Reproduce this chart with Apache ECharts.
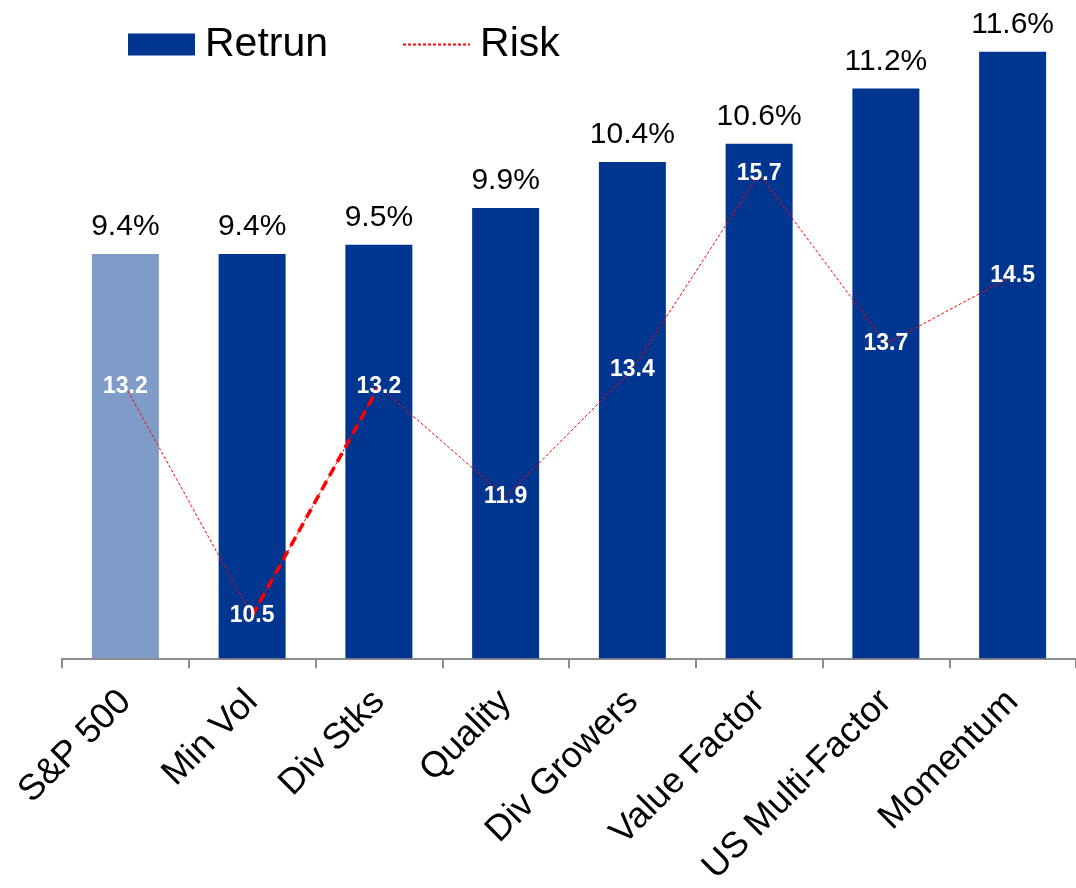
<!DOCTYPE html>
<html>
<head>
<meta charset="utf-8">
<script src="https://cdn.jsdelivr.net/npm/echarts@6/dist/echarts.min.js"></script>
<style>
  html, body { margin: 0; padding: 0; background: #ffffff; }
  #chart { width: 1076px; height: 888px; }
</style>
</head>
<body>
<div id="chart"></div>
<script>
// Factor strategies: annualised return (bars) and risk (line)
const categories = ['S&P 500', 'Min Vol', 'Div Stks', 'Quality', 'Div Growers', 'Value Factor', 'US Multi-Factor', 'Momentum'];
const returnValues = [9.4, 9.4, 9.5, 9.9, 10.4, 10.6, 11.2, 11.6];
const riskValues = [13.2, 10.5, 13.2, 11.9, 13.4, 15.7, 13.7, 14.5];
// the Min Vol -> Div Stks leg is drawn heavier
const highlightedLeg = [1, 2];

const FONT = '"Liberation Sans", Arial, sans-serif';
const DARK = '#00368F';
const LIGHT = '#7F9BC8';

const barData = returnValues.map((v, i) => ({
  value: v,
  itemStyle: { color: i === 0 ? LIGHT : DARK }
}));
const legData = riskValues.map((v, i) => (highlightedLeg.includes(i) ? v : null));

const chart = echarts.init(document.getElementById('chart'), null, { renderer: 'canvas' });
chart.setOption({
  animation: false,
  backgroundColor: '#ffffff',
  grid: { left: 62, right: 0, top: 15, bottom: 226, containLabel: false },
  legend: {
    left: 123,
    top: 19,
    itemWidth: 67,
    itemHeight: 22,
    itemGap: 74,
    textStyle: { fontFamily: FONT, fontSize: 41, color: '#000', padding: [0, 0, 0, 5] },
    data: [
      { name: 'Retrun', icon: 'rect' },
      { name: 'Risk', itemStyle: { opacity: 0 } }
    ]
  },
  xAxis: {
    type: 'category',
    data: categories,
    axisLine: { lineStyle: { color: '#8c8c8c', width: 2 } },
    axisTick: { show: true, length: 10, lineStyle: { color: '#8c8c8c', width: 2 } },
    axisLabel: {
      interval: 0,
      rotate: 45,
      margin: 38,
      fontFamily: FONT,
      fontSize: 36,
      color: '#000'
    }
  },
  yAxis: [
    { type: 'value', min: 5, max: 12, show: false, splitLine: { show: false } },
    { type: 'value', min: 10, max: 17.57, show: false, splitLine: { show: false } }
  ],
  series: [
    {
      name: 'Retrun',
      type: 'bar',
      data: barData,
      barWidth: 67,
      itemStyle: { color: DARK },
      label: {
        show: true,
        position: 'top',
        distance: 12,
        fontFamily: FONT,
        fontSize: 30,
        color: '#000',
        formatter: p => p.value.toFixed(1) + '%'
      }
    },
    {
      name: 'Risk',
      type: 'line',
      yAxisIndex: 1,
      data: riskValues,
      symbol: 'circle',
      symbolSize: 1,
      itemStyle: { color: '#ff0000' },
      lineStyle: { color: '#ff0000', width: 1, type: [3, 2] },
      z: 3,
      label: {
        show: true,
        position: 'inside',
        fontFamily: FONT,
        fontWeight: 'bold',
        fontSize: 23,
        color: '#ffffff',
        formatter: p => p.value.toFixed(1)
      }
    },
    {
      name: 'RiskLeg',
      type: 'line',
      yAxisIndex: 1,
      data: legData,
      symbol: 'none',
      connectNulls: false,
      lineStyle: { color: '#ff0000', width: 3.5, type: [10, 6] },
      z: 2,
      silent: true
    }
  ]
});
</script>
</body>
</html>
